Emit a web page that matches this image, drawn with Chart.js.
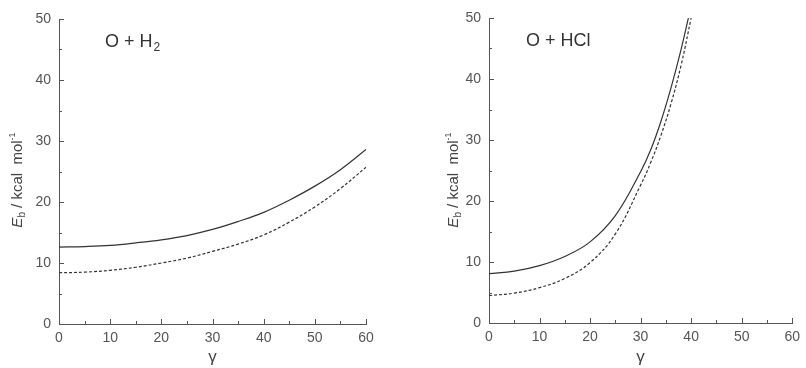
<!DOCTYPE html>
<html>
<head>
<meta charset="utf-8">
<script src="https://cdn.jsdelivr.net/npm/chart.js@4.4.0/dist/chart.umd.min.js"></script>
<style>
    html, body { margin: 0; padding: 0; background: #fff; }
    #wrap { position: relative; width: 806px; height: 368px; }
    .panel { position: absolute; top: 0; width: 403px; height: 368px; }
</style>
</head>
<body>
<div id="wrap">
    <div class="panel" style="left:0"><canvas id="chartH2"></canvas></div>
    <div class="panel" style="left:403px"><canvas id="chartHCl"></canvas></div>
</div>
<script>
// gamma values (deg) and barrier heights (kcal/mol)
const gammaH2 = [0, 5, 10, 15, 20, 25, 30, 35, 40, 45, 50, 55, 60];
const solidH2 = [12.6, 12.7, 12.9, 13.3, 13.8, 14.5, 15.5, 16.8, 18.3, 20.3, 22.6, 25.3, 28.6];
const dashedH2 = [8.4, 8.5, 8.8, 9.3, 10.0, 10.8, 11.9, 13.1, 14.6, 16.7, 19.2, 22.2, 25.7];

const gammaHCl = [0, 5, 10, 15, 20, 25, 30, 32, 34, 36, 38, 40];
const solidHCl = [8.1, 8.5, 9.4, 10.9, 13.3, 17.6, 24.8, 28.4, 33.0, 38.5, 44.8, 52.0];
const dashedHCl = [4.5, 4.9, 5.8, 7.3, 9.9, 14.6, 22.6, 26.3, 30.7, 35.9, 42.2, 50.0];

const xTicks = [0, 10, 20, 30, 40, 50, 60];
const yTicks = [0, 10, 20, 30, 40, 50];

const axisColor = '#555';
const lineColor = '#333';
const fontFamily = '"Liberation Sans", Arial, sans-serif';

function points(xs, ys) {
    return xs.map((x, i) => ({ x: x, y: ys[i] }));
}

// inward tick marks, major every 10 and minor every 5
const innerTicks = {
    id: 'innerTicks',
    afterDraw(chart) {
        const ctx = chart.ctx;
        const xs = chart.scales.x, ys = chart.scales.y;
        const area = chart.chartArea;
        ctx.save();
        ctx.strokeStyle = axisColor;
        ctx.lineWidth = 1;
        ctx.beginPath();
        for (let v = 0; v <= 60; v += 5) {
            let px = Math.round(xs.getPixelForValue(v)) + 0.5;
            let len = v % 10 === 0 ? 5 : 3;
            ctx.moveTo(px, area.bottom);
            ctx.lineTo(px, area.bottom - len);
        }
        for (let v = 0; v <= 50; v += 5) {
            let py = Math.round(ys.getPixelForValue(v)) + 0.5;
            let len = v % 10 === 0 ? 5 : 3;
            ctx.moveTo(area.left, py);
            ctx.lineTo(area.left + len, py);
        }
        ctx.stroke();
        ctx.restore();
    }
};

// y title with italic E, subscript b and superscript -1, plus the panel label
const labels = {
    id: 'labels',
    afterDraw(chart, args, opts) {
        const ctx = chart.ctx;
        ctx.save();
        ctx.fillStyle = '#444';
        ctx.textBaseline = 'alphabetic';
        ctx.textAlign = 'left';

        let parts = [
            { t: 'E', f: 'italic 15px ' + fontFamily, dy: 0 },
            { t: 'b', f: '10px ' + fontFamily, dy: 3 },
            { t: ' / kcal  mol', f: '15px ' + fontFamily, dy: 0 },
            { t: '-1', f: '9px ' + fontFamily, dy: -7 }
        ];
        let total = 0;
        parts.forEach(p => { ctx.font = p.f; p.w = ctx.measureText(p.t).width; total += p.w; });
        ctx.translate(opts.titleX, 180);
        ctx.rotate(-Math.PI / 2);
        let x = -total / 2;
        parts.forEach(p => {
            ctx.font = p.f;
            ctx.fillText(p.t, x, 5 + p.dy);
            x += p.w;
        });
        ctx.restore();

        ctx.save();
        ctx.fillStyle = '#333';
        ctx.textBaseline = 'alphabetic';
        ctx.font = '18px ' + fontFamily;
        ctx.fillText(opts.label, opts.labelX, opts.labelY);
        if (opts.sub) {
            let w = ctx.measureText(opts.label).width;
            ctx.font = '12px ' + fontFamily;
            ctx.fillText(opts.sub, opts.labelX + w + 1, opts.labelY + 4);
        }
        ctx.restore();
    }
};

function makeChart(id, xs, solid, dashed, cfg) {
    new Chart(document.getElementById(id), {
        type: 'line',
        data: {
            datasets: [{
                data: points(xs, solid),
                borderColor: lineColor,
                borderWidth: 1.2,
                pointRadius: 0,
                tension: 0.4,
                fill: false
            }, {
                data: points(xs, dashed),
                borderColor: lineColor,
                borderWidth: 1.2,
                borderDash: [3, 2],
                pointRadius: 0,
                tension: 0.4,
                fill: false
            }]
        },
        options: {
            responsive: true,
            maintainAspectRatio: false,
            animation: false,
            layout: { padding: cfg.padding },
            plugins: {
                legend: { display: false },
                tooltip: { enabled: false },
                labels: cfg.labels
            },
            scales: {
                x: {
                    type: 'linear',
                    min: 0,
                    max: 60,
                    afterBuildTicks: s => { s.ticks = xTicks.map(v => ({ value: v })); },
                    afterFit: s => { s.height = cfg.xHeight; },
                    grid: { display: false, drawTicks: false },
                    border: { display: true, color: axisColor, width: 1 },
                    ticks: { color: '#555', padding: 6, maxRotation: 0, font: { family: fontFamily, size: 14 } },
                    title: { display: true, text: 'γ', color: '#444', padding: { top: 0, bottom: 0 }, font: { family: fontFamily, size: 17 } }
                },
                y: {
                    min: 0,
                    max: 50,
                    afterBuildTicks: s => { s.ticks = yTicks.map(v => ({ value: v })); },
                    afterFit: s => { s.width = cfg.yWidth; },
                    grid: { display: false, drawTicks: false },
                    border: { display: true, color: axisColor, width: 1 },
                    ticks: { color: '#555', padding: 8, font: { family: fontFamily, size: 14 } }
                }
            }
        },
        plugins: [innerTicks, labels]
    });
}

makeChart('chartH2', gammaH2, solidH2, dashedH2, {
    padding: { left: 0, right: 37, top: 19, bottom: 0 },
    yWidth: 59,
    xHeight: 44,
    labels: { titleX: 17, label: 'O + H', sub: '2', labelX: 105, labelY: 47 }
});

makeChart('chartHCl', gammaHCl, solidHCl, dashedHCl, {
    padding: { left: 33, right: 9, top: 18, bottom: 0 },
    yWidth: 53,
    xHeight: 45,
    labels: { titleX: 50, label: 'O + HCl', labelX: 123, labelY: 46 }
});
</script>
</body>
</html>
